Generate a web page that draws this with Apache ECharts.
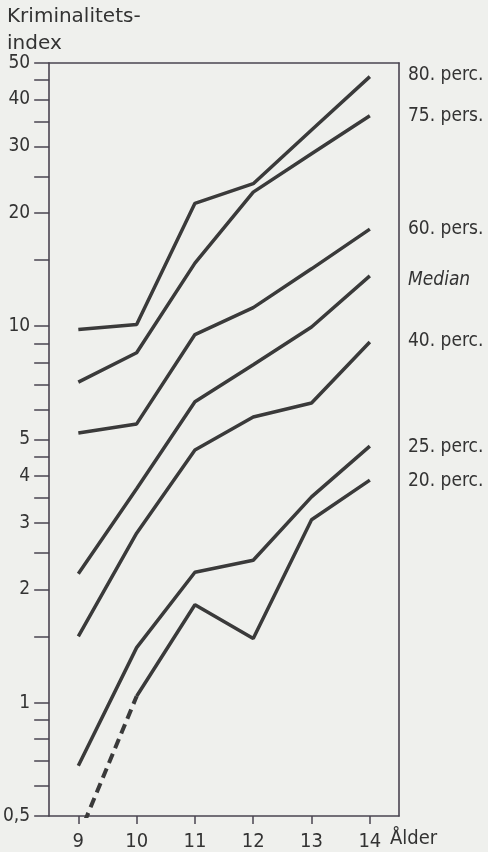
<!DOCTYPE html>
<html>
<head>
<meta charset="utf-8">
<script src="https://cdn.jsdelivr.net/npm/echarts@6/dist/echarts.min.js"></script>
<style>
html,body{margin:0;padding:0;background:#eff0ed;}
#chart{width:488px;height:852px;}
</style>
</head>
<body>
<div id="chart"></div>
<script>
// Data
var ages = [9, 10, 11, 12, 13, 14];
var p80 = [9.8, 10.1, 21.2, 23.9, 33.2, 46];
var p75 = [7.1, 8.5, 14.7, 22.7, 28.7, 36.2];
var p60 = [5.2, 5.5, 9.5, 11.2, 14.2, 18.1];
var median = [2.2, 3.7, 6.3, 7.9, 9.95, 13.6];
var p40 = [1.5, 2.82, 4.69, 5.74, 6.25, 9.08];
var p25 = [0.68, 1.4, 2.22, 2.39, 3.52, 4.8];
var p20 = [0.44, 1.04, 1.82, 1.48, 3.06, 3.9]; // age 9 part is dashed (extrapolated)

var yLabelValues = [0.5, 1, 2, 3, 4, 5, 10, 20, 30, 40, 50];
var yTickValues = [0.5, 0.6, 0.7, 0.8, 0.9, 1, 1.5, 2, 2.5, 3, 3.5, 4, 4.5, 5, 6, 7, 8, 9, 10, 15, 20, 25, 30, 35, 40, 45, 50];
var xTickValues = [9, 10, 11, 12, 13, 14];

var seriesNames = ['80. perc.', '75. pers.', '60. pers.', 'Median', '40. perc.', '25. perc.', '20. perc.'];
var seriesValues = [p80, p75, p60, median, p40, p25, p20];

var lineColor = '#3a3a3a';
var axisColor = '#4a4450';
var textColor = '#333333';
var fam = '"DejaVu Sans Condensed", "DejaVu Sans", sans-serif';

function pairs(xs, ys) { return xs.map(function (x, i) { return [x, ys[i]]; }); }

var series = [];
seriesValues.forEach(function (vals, i) {
  var d = pairs(ages, vals);
  if (i === 6) {
    series.push({ name: seriesNames[i] + ' (streckad)', type: 'line', data: d.slice(0, 2), showSymbol: false, clip: true,
      lineStyle: { color: lineColor, width: 4, type: [10, 6] }, silent: true });
    d = d.slice(1);
  }
  series.push({ name: seriesNames[i], type: 'line', data: d, showSymbol: false, clip: true,
    lineStyle: { color: lineColor, width: 3.5 }, silent: true });
});

var chart = echarts.init(document.getElementById('chart'), null, { renderer: 'canvas' });

var rightLabelY = [75, 116, 229, 280, 341, 447, 481];
var graphics = [
  { type: 'text', left: 7, top: 7, style: { text: 'Kriminalitets-', font: '20px "DejaVu Sans"', fill: textColor } },
  { type: 'text', left: 7, top: 34, style: { text: 'index', font: '20px "DejaVu Sans"', fill: textColor } },
  { type: 'text', left: 390, top: 829, style: { text: 'Ålder', font: '20px ' + fam, fill: textColor } }
];
seriesNames.forEach(function (n, i) {
  graphics.push({ type: 'text', left: 408, top: rightLabelY[i] - 9,
    style: { text: n, font: (i === 3 ? 'italic ' : '') + '19px ' + fam, fill: textColor } });
});

chart.setOption({
  backgroundColor: '#eff0ed',
  animation: false,
  grid: { left: 49, right: 89, top: 63, bottom: 36, containLabel: false },
  xAxis: [{
    type: 'value', min: 8.5, max: 14.5,
    axisLine: { show: true, onZero: false, lineStyle: { color: axisColor, width: 1.6 } },
    axisTick: { show: true, customValues: xTickValues, length: 8, lineStyle: { color: axisColor, width: 1.5 } },
    axisLabel: { show: true, customValues: xTickValues, margin: 16, color: textColor,
      fontFamily: fam, fontSize: 20 },
    splitLine: { show: false }
  }, {
    type: 'value', position: 'top', min: 8.5, max: 14.5,
    axisLine: { show: true, lineStyle: { color: axisColor, width: 1.6 } },
    axisTick: { show: false }, axisLabel: { show: false }, splitLine: { show: false }
  }],
  yAxis: [{
    type: 'log', logBase: 10, min: 0.5, max: 50,
    axisLine: { show: true, lineStyle: { color: axisColor, width: 1.6 } },
    axisTick: { show: true, customValues: yTickValues, length: 15, lineStyle: { color: axisColor, width: 1.5 } },
    axisLabel: { show: true, customValues: yLabelValues, margin: 19, color: textColor,
      fontFamily: fam, fontSize: 19,
      formatter: function (v) { return String(v).replace('.', ','); } },
    splitLine: { show: false }, minorTick: { show: false }
  }, {
    type: 'log', logBase: 10, min: 0.5, max: 50, position: 'right',
    axisLine: { show: true, lineStyle: { color: axisColor, width: 1.6 } },
    axisTick: { show: false }, axisLabel: { show: false }, splitLine: { show: false }
  }],
  series: series,
  graphic: graphics
});
</script>
</body>
</html>
